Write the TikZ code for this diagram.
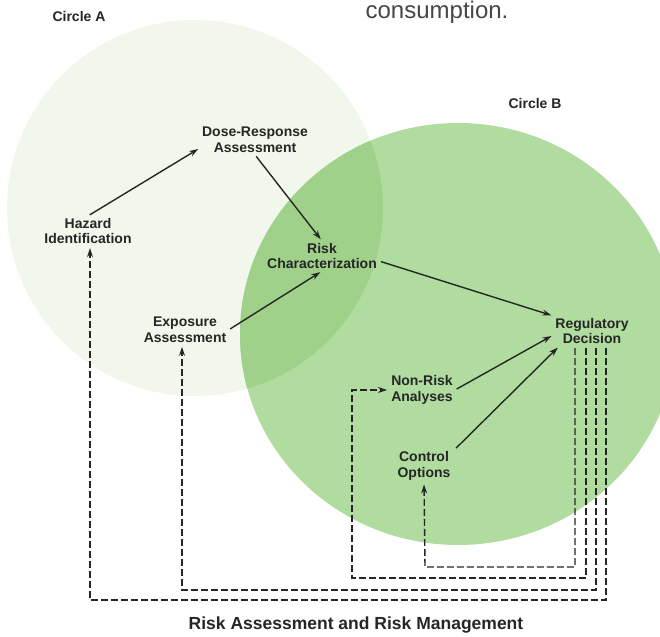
\documentclass[tikz,border=0pt]{standalone}
\usepackage{fontspec}
\setmainfont{Liberation Sans}
\usetikzlibrary{arrows.meta}
\definecolor{paleA}{HTML}{F2F7EC}
\definecolor{greenB}{HTML}{B0DCA0}
\definecolor{greenAB}{HTML}{9FD18B}
\definecolor{ink}{HTML}{262626}
\begin{document}
\begin{tikzpicture}[x=1pt,y=-1pt,
  lbl/.style={align=center, text=ink, font=\fontsize{14}{15.5}\selectfont\bfseries, inner sep=2pt},
  arr/.style={-{Stealth[length=9pt,width=6pt]}, line width=1.4pt, draw=ink, shorten <=2pt, shorten >=2pt},
  fb/.style={arr, dash pattern=on 7pt off 3pt}]
\useasboundingbox[fill=white] (0,0) rectangle (660,636);

% the two circles and their overlap
\fill[paleA] (195,208) circle (188pt);
\fill[greenB] (458,334) ellipse (218pt and 211pt);
\begin{scope}
\clip (195,208) circle (188pt);
\fill[greenAB] (458,334) ellipse (218pt and 211pt);
\end{scope}

\node[font=\fontsize{24}{28}\selectfont, text=ink!85, anchor=base](cons) at (437,19) {consumption.};
\node[lbl](circA) at (79,16) {Circle A};
\node[lbl](circB) at (535,103) {Circle B};

\node[lbl](dose) at (255,140) {Dose-Response\\Assessment};
\node[lbl](hazard) at (88,231) {Hazard\\Identification};
\node[lbl](risk) at (322,256) {Risk\\Characterization};
\node[lbl](expo) at (185,330) {Exposure\\Assessment};
\node[lbl](reg) at (592,331) {Regulatory\\Decision};
\node[lbl](nonrisk) at (422,390) {Non-Risk\\Analyses};
\node[lbl](control) at (424,466) {Control\\Options};
\node[lbl, font=\fontsize{17.5}{19}\selectfont\bfseries](title) at (356,625) {Risk Assessment and Risk Management};

\draw[arr] (hazard.north) -- ([yshift=-8pt]dose.west);
\draw[arr] (dose.south) -- (risk.north);
\draw[arr] (expo.east) -- (risk.south);
\draw[arr] ([yshift=-5pt]risk.east) -- (reg.north west);
\draw[arr] (nonrisk.east) -- ([yshift=-4pt]reg.west);
\draw[arr] ([xshift=2pt]control.north east) -- ([xshift=6pt]reg.south west);

% feedback from the decision
\coordinate (fb1) at (425,567);
\coordinate (fb2) at (352,578);
\coordinate (fb3) at (182,590);
\coordinate (fb4) at (90,600);
\draw[fb] ([xshift=-17pt]reg.south) |- (fb1) -- (control.south);
\draw[fb] ([xshift=-6pt]reg.south) |- (fb2) |- (nonrisk.west);
\draw[fb] ([xshift=4pt]reg.south) |- (fb3) -- (fb3 |- expo.south);
\draw[fb] ([xshift=14pt]reg.south) |- (fb4) -- (fb4 |- hazard.south);
\end{tikzpicture}
\end{document}
